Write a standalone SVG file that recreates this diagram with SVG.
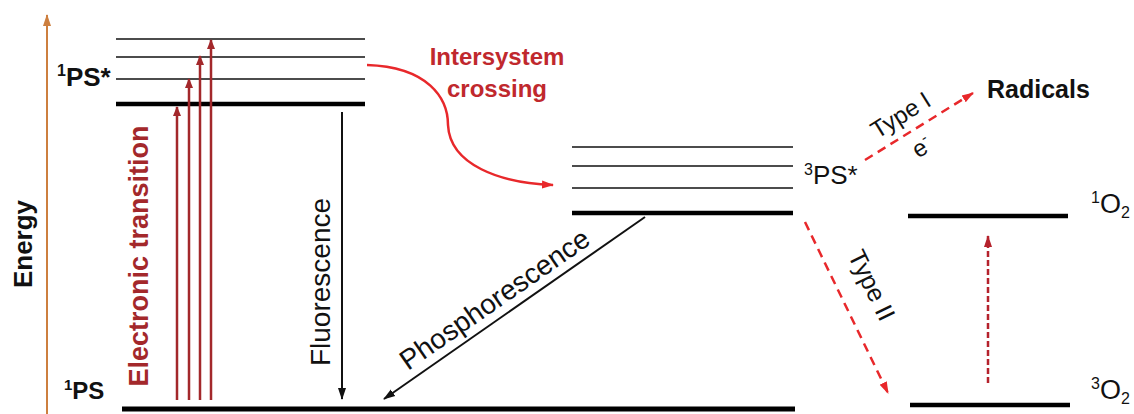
<svg xmlns="http://www.w3.org/2000/svg" width="1134" height="414" viewBox="0 0 1134 414">
<style>
text{font-family:"Liberation Sans",Arial,sans-serif;}
.lbl{font-size:23px;font-weight:bold;fill:#111;}
.thin{stroke:#111;stroke-width:1.5;}
.thick{stroke:#000;stroke-width:4.5;}
.ex{stroke:#A3282B;stroke-width:2.5;fill:none;marker-end:url(#mEx);}
.blk{stroke:#111;stroke-width:2;fill:none;marker-end:url(#mBlk);}
.red{stroke:#E8282B;stroke-width:2.5;fill:none;}
.dash{stroke:#E8282B;stroke-width:2.5;stroke-dasharray:9 6;fill:none;marker-end:url(#mRed);}
.dash2{stroke:#B5222C;stroke-width:2.5;stroke-dasharray:6 3;fill:none;marker-end:url(#mDk);}
</style>
<defs>
<marker id="mEx" markerWidth="10" markerHeight="10" refX="9" refY="5" orient="auto" markerUnits="userSpaceOnUse"><path d="M0,1 L10,5 L0,9 Z" fill="#A3282B"/></marker>
<marker id="mBlk" markerWidth="12" markerHeight="10" refX="11" refY="5" orient="auto" markerUnits="userSpaceOnUse"><path d="M0,1 L12,5 L0,9 Z" fill="#111"/></marker>
<marker id="mRed" markerWidth="12" markerHeight="10" refX="11" refY="5" orient="auto" markerUnits="userSpaceOnUse"><path d="M0,1 L12,5 L0,9 Z" fill="#E8282B"/></marker>
<marker id="mDk" markerWidth="12" markerHeight="10" refX="11" refY="5" orient="auto" markerUnits="userSpaceOnUse"><path d="M0,1 L12,5 L0,9 Z" fill="#B5222C"/></marker>
<marker id="mOr" markerWidth="12" markerHeight="10" refX="11" refY="5" orient="auto" markerUnits="userSpaceOnUse"><path d="M0,1 L12,5 L0,9 Z" fill="#CD7F3F"/></marker>
</defs>

<g id="energy-axis">
<line x1="47" y1="414" x2="47" y2="15" stroke="#CD7F3F" stroke-width="2" marker-end="url(#mOr)"/>
<text transform="translate(32,244) rotate(-90)" text-anchor="middle" style="font-size:26px;font-weight:bold;fill:#111">Energy</text>
</g>

<g id="S1">
<line class="thin" x1="116" y1="39" x2="365" y2="39"/>
<line class="thin" x1="116" y1="57" x2="365" y2="57"/>
<line class="thin" x1="116" y1="79" x2="365" y2="79"/>
<line class="thick" x1="116" y1="104" x2="365" y2="104"/>
<text class="lbl" x="57" y="86" style="font-size:26px"><tspan style="font-size:16px" dy="-10">1</tspan><tspan dy="10">PS*</tspan></text>
</g>

<g id="S0">
<line stroke="#000" stroke-width="5" x1="122" y1="409" x2="795" y2="409"/>
<text class="lbl" x="64" y="399" style="font-size:24px"><tspan style="font-size:15px" dy="-9">1</tspan><tspan dy="9">PS</tspan></text>
</g>

<g id="T1">
<line class="thin" x1="572" y1="147" x2="793" y2="147"/>
<line class="thin" x1="572" y1="166" x2="793" y2="166"/>
<line class="thin" x1="572" y1="188" x2="793" y2="188"/>
<line class="thick" x1="572" y1="213" x2="793" y2="213"/>
<text x="804" y="184" style="font-size:26px;fill:#111"><tspan style="font-size:16px" dy="-9">3</tspan><tspan dy="9">PS*</tspan></text>
</g>

<g id="O2-singlet">
<line class="thick" x1="908" y1="216" x2="1068" y2="216"/>
<text x="1091" y="213" style="font-size:27px;fill:#111"><tspan style="font-size:16px" dy="-10">1</tspan><tspan dy="10">O</tspan><tspan style="font-size:16px" dy="5">2</tspan></text>
</g>

<g id="O2-triplet">
<line class="thick" x1="910" y1="405" x2="1070" y2="405"/>
<text x="1091" y="399" style="font-size:27px;fill:#111"><tspan style="font-size:16px" dy="-10">3</tspan><tspan dy="10">O</tspan><tspan style="font-size:16px" dy="5">2</tspan></text>
</g>

<g id="radicals">
<text x="987" y="98" style="font-size:25px;font-weight:bold;fill:#111">Radicals</text>
</g>

<g id="connectors">
<line class="ex" x1="177" y1="400" x2="177" y2="107"/>
<line class="ex" x1="189" y1="400" x2="189" y2="79"/>
<line class="ex" x1="200" y1="400" x2="200" y2="56"/>
<line class="ex" x1="211" y1="400" x2="211" y2="40"/>
<text transform="translate(148,256) rotate(-90)" text-anchor="middle" style="font-size:27px;font-weight:bold;fill:#A3282B">Electronic transition</text>

<line class="blk" x1="342" y1="112" x2="342" y2="399"/>
<text transform="translate(330,282) rotate(-90)" text-anchor="middle" style="font-size:28px;fill:#111">Fluorescence</text>

<line class="blk" x1="645" y1="217" x2="384" y2="399"/>
<text transform="translate(500,307) rotate(-34.8)" text-anchor="middle" style="font-size:28px;fill:#111">Phosphorescence</text>

<path class="red" d="M367,65 C428,67 448,98 448,125 C450,165 500,183 553,185" marker-end="url(#mRed)"/>
<text x="497" y="65" text-anchor="middle" style="font-size:24px;font-weight:bold;fill:#C0282D">Intersystem</text>
<text x="497" y="97" text-anchor="middle" style="font-size:24px;font-weight:bold;fill:#C0282D">crossing</text>

<line class="dash" x1="865" y1="160" x2="973" y2="93"/>
<text transform="translate(905,122) rotate(-32)" text-anchor="middle" style="font-size:24px;fill:#111">Type I</text>
<text transform="translate(926,154) rotate(-32)" text-anchor="middle" style="font-size:24px;fill:#111">e<tspan style="font-size:15px" dy="-10">-</tspan></text>

<line class="dash" x1="805" y1="222" x2="888" y2="393"/>
<text transform="translate(864,289) rotate(64)" text-anchor="middle" style="font-size:25px;fill:#111">Type II</text>

<line class="dash2" x1="988" y1="383" x2="988" y2="236"/>
</g>
</svg>
